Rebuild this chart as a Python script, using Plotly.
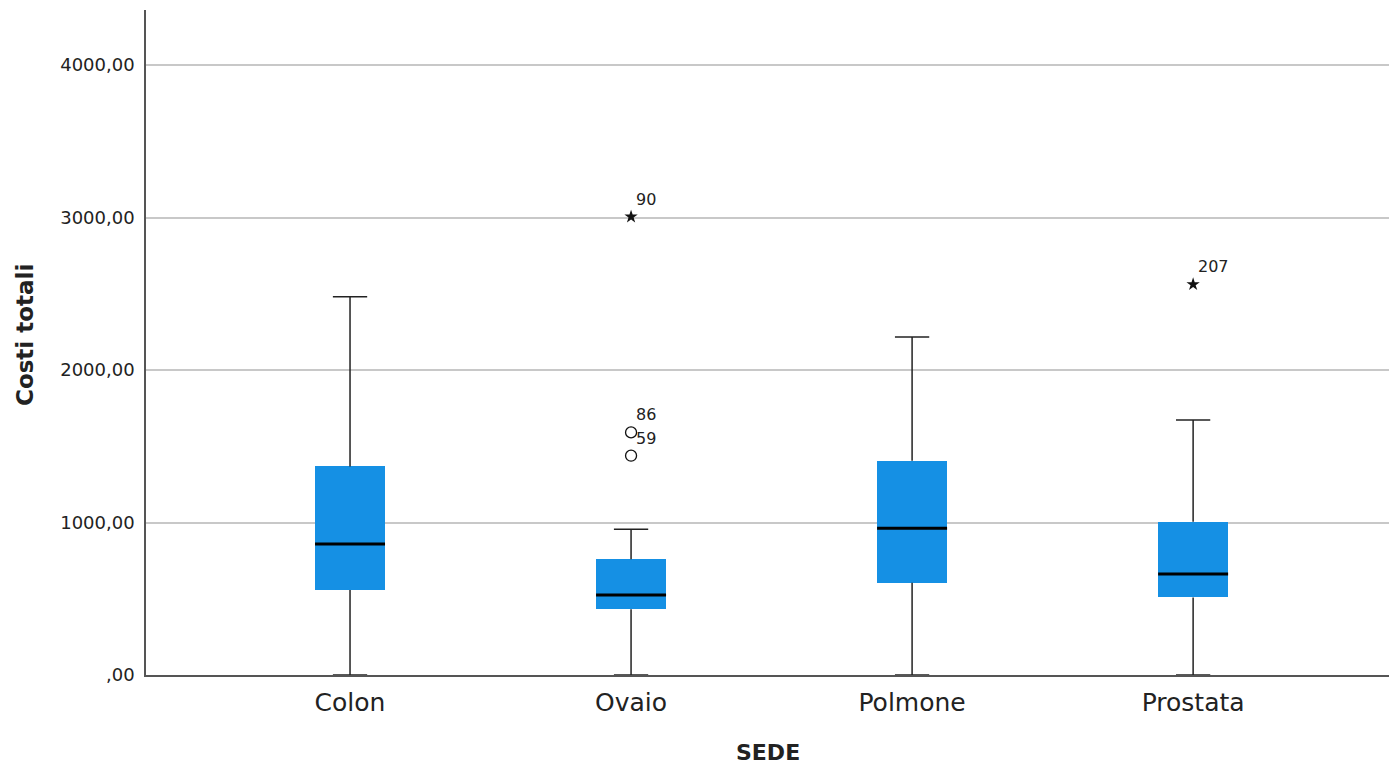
import plotly.graph_objects as go

categories = ["Colon", "Ovaio", "Polmone", "Prostata"]
lower_fence = [0, 0, 0, 0]
q1 = [557, 431, 605, 509]
median = [859, 525, 962, 662]
q3 = [1368, 759, 1405, 1005]
upper_fence = [2480, 955, 2216, 1672]

outlier_cat = [1, 1]
outlier_val = [1591, 1438]
outlier_lab = ["86", "59"]

extreme_cat = [1, 3]
extreme_val = [3005, 2562]
extreme_lab = ["90", "207"]

y_ticks = [0, 1000, 2000, 3000, 4000]
y_ticktext = [",00", "1000,00", "2000,00", "3000,00", "4000,00"]

BOX_W = 0.249
CAP_HALF = 0.061
BLUE = "#1590E4"
FONT = "DejaVu Sans, sans-serif"

FIG_W, FIG_H = 1389, 767
M_L, M_T, M_B = 146, 10, 92
PLOT_H = FIG_H - M_T - M_B

xs = list(range(len(categories)))

fig = go.Figure()

# whiskers
wx, wy = [], []
for i in xs:
    wx += [i, i, None, i, i, None]
    wy += [lower_fence[i], q1[i], None, q3[i], upper_fence[i], None]
    wx += [i - CAP_HALF, i + CAP_HALF, None, i - CAP_HALF, i + CAP_HALF, None]
    wy += [lower_fence[i], lower_fence[i], None, upper_fence[i], upper_fence[i], None]
fig.add_trace(go.Scatter(x=wx, y=wy, mode="lines", line=dict(color="#222222", width=1.5),
                         hoverinfo="skip", showlegend=False))

# boxes
fig.add_trace(go.Bar(x=xs, y=[q3[i] - q1[i] for i in xs], base=q1, width=BOX_W,
                     marker=dict(color=BLUE, line=dict(width=0)), showlegend=False))

# medians
mx, my = [], []
for i in xs:
    mx += [i - BOX_W / 2, i + BOX_W / 2, None]
    my += [median[i], median[i], None]
fig.add_trace(go.Scatter(x=mx, y=my, mode="lines", line=dict(color="#000000", width=3),
                         hoverinfo="skip", showlegend=False))

# outliers
fig.add_trace(go.Scatter(x=outlier_cat, y=outlier_val, mode="markers",
                         marker=dict(symbol="circle-open", size=11, color="#111111",
                                     line=dict(width=1.3, color="#111111")),
                         showlegend=False))
fig.add_trace(go.Scatter(x=extreme_cat, y=extreme_val, mode="markers",
                         marker=dict(symbol="star", size=10, color="#111111"),
                         showlegend=False))

for cx, vy, lab in zip(outlier_cat + extreme_cat, outlier_val + extreme_val, outlier_lab + extreme_lab):
    fig.add_annotation(x=cx, y=vy, text=lab, showarrow=False, xanchor="left", yanchor="bottom",
                       xshift=3, yshift=6, font=dict(family=FONT, size=16, color="#222222"))

# axis titles
fig.add_annotation(xref="paper", yref="paper", x=0.5, y=-(752 - 675) / PLOT_H,
                   text="<b>SEDE</b>", showarrow=False, xanchor="center", yanchor="middle",
                   font=dict(family=FONT, size=22, color="#222222"))
fig.add_annotation(xref="paper", yref="paper", x=0, y=(675 - 335) / PLOT_H, xshift=-121,
                   text="<b>Costi totali</b>", textangle=-90, showarrow=False,
                   xanchor="center", yanchor="middle",
                   font=dict(family=FONT, size=23, color="#222222"))

fig.update_layout(
    width=FIG_W, height=FIG_H,
    margin=dict(l=M_L, r=0, t=M_T, b=M_B),
    paper_bgcolor="white", plot_bgcolor="white",
    bargap=0,
    font=dict(family=FONT, color="#222222"),
    xaxis=dict(range=[-0.726, 3.697], tickvals=xs, ticktext=categories, automargin=False,
               showgrid=False, zeroline=False, showline=True, linecolor="#555555", linewidth=1.5,
               ticks="", ticklabelstandoff=4, tickfont=dict(size=25, color="#222222")),
    yaxis=dict(range=[0, 4361], tickvals=y_ticks, ticktext=y_ticktext, automargin=False,
               showgrid=True, gridcolor="#C8C8C8", gridwidth=1.5, zeroline=False,
               showline=True, linecolor="#555555", linewidth=1.5, ticks="",
               ticklabelstandoff=6, tickfont=dict(size=18, color="#222222")),
)

fig.write_html("out.html", config={"displayModeBar": False},
               post_script="document.body.style.margin='0';document.body.style.overflow='hidden';")
